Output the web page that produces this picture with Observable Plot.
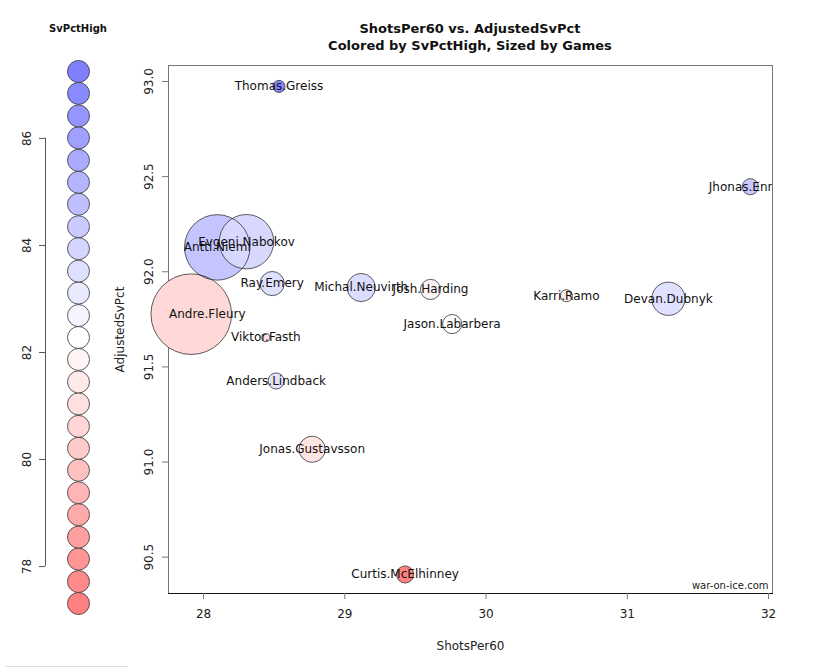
<!DOCTYPE html>
<html>
<head>
<meta charset="utf-8">
<script src="https://cdn.jsdelivr.net/npm/d3@7"></script>
<script src="https://cdn.jsdelivr.net/npm/@observablehq/plot@0.6"></script>
<style>
  body { margin: 0; background: #fff; font-family: "DejaVu Sans", sans-serif; }
  #wrap { position: relative; width: 830px; height: 668px; overflow: hidden; }
  #legend { position: absolute; left: 0; top: 0; }
  #main { position: absolute; left: 100px; top: 0; }
  .legend-title { position: absolute; left: 28px; width: 100px; top: 23px; text-align: center;
                  font-size: 10px; font-weight: bold; color: #111; }
  .title { position: absolute; left: 170px; width: 600px; top: 20px; text-align: center;
           font-size: 13px; font-weight: bold; line-height: 17px; color: #111; }
  .bottom-line { position: absolute; left: 5px; top: 666px; width: 123px; height: 1px; background: #ddd; }
</style>
</head>
<body>
<div id="wrap">
  <div id="legend"></div>
  <div id="main"></div>
  <div class="legend-title">SvPctHigh</div>
  <div class="title">ShotsPer60 vs. AdjustedSvPct<br>Colored by SvPctHigh, Sized by Games</div>
  <div class="bottom-line"></div>
</div>
<script>
// ── data ─────────────────────────────────────────────────────
const NAMES = [
  "Andre.Fleury", "Antti.Niemi", "Evgeni.Nabokov", "Devan.Dubnyk", "Michal.Neuvirth",
  "Jonas.Gustavsson", "Ray.Emery", "Josh.Harding", "Jason.Labarbera", "Curtis.McElhinney",
  "Anders.Lindback", "Jhonas.Enroth", "Thomas.Greiss", "Karri.Ramo", "Viktor.Fasth"
];
const SHOTS_PER_60 = [27.913, 28.097, 28.304, 31.291, 29.116, 28.769, 28.486, 29.607, 29.760, 29.427, 28.514, 31.871, 28.534, 30.569, 28.441];
const ADJ_SVPCT    = [91.777, 92.128, 92.158, 91.858, 91.917, 91.067, 91.938, 91.907, 91.725, 90.409, 91.426, 92.447, 92.974, 91.874, 91.654];
const SVPCT_HIGH   = [80.75, 84.59, 83.81, 83.50, 83.65, 81.22, 83.49, 81.78, 82.30, 77.40, 83.34, 84.43, 87.00, 81.39, 81.05];
const GAMES        = [80, 65, 54, 33, 28, 26, 24, 20, 19, 17, 16, 16, 12, 12, 8];

// legend swatch values (top to bottom read as 87.25 .. 77.31)
const LEGEND_VALUES = [
  77.31, 77.72, 78.14, 78.55, 78.97, 79.38, 79.80, 80.21, 80.62, 81.04, 81.45, 81.87, 82.28,
  82.69, 83.11, 83.52, 83.94, 84.35, 84.77, 85.18, 85.59, 86.01, 86.42, 86.84, 87.25
];
const LEGEND_TICKS = [78, 80, 82, 84, 86];
const X_TICKS = [28, 29, 30, 31, 32];
const Y_TICKS = [90.5, 91.0, 91.5, 92.0, 92.5, 93.0];

const rows = NAMES.map((name, i) => ({
  name,
  shots: SHOTS_PER_60[i],
  adj: ADJ_SVPCT[i],
  high: SVPCT_HIGH[i],
  games: GAMES[i]
}));

// red -> white -> blue, shared by legend and bubbles
const colorScale = {
  type: "linear",
  domain: [77.31, 82.28, 87.25],
  range: ["#ff8080", "#ffffff", "#8080ff"],
  interpolate: "rgb"
};

// ── legend column ────────────────────────────────────────────
const legend = Plot.plot({
  width: 130,
  height: 668,
  marginLeft: 45,
  marginRight: 0,
  marginTop: 71,
  marginBottom: 65,
  style: { fontFamily: "DejaVu Sans, sans-serif", fontSize: "12px", color: "#222" },
  x: { domain: [0, 1], axis: null },
  y: { domain: [77.31, 87.25], axis: null },
  color: colorScale,
  marks: [
    Plot.ruleX([0], { y1: 78, y2: 86, stroke: "#555" }),
    Plot.axisY({ ticks: LEGEND_TICKS, tickRotate: -90, tickSize: 6, tickPadding: 9, label: null, stroke: "#555" }),
    Plot.dot(LEGEND_VALUES, {
      y: d => d, fill: d => d, r: 11, stroke: "#333", strokeWidth: 0.8,
      frameAnchor: "left", dx: 33
    })
  ]
});
document.getElementById("legend").appendChild(legend);

// ── main scatter ─────────────────────────────────────────────
const main = Plot.plot({
  width: 730,
  height: 668,
  marginLeft: 68,
  marginRight: 58,
  marginTop: 65,
  marginBottom: 75,
  style: { fontFamily: "DejaVu Sans, sans-serif", fontSize: "12px", color: "#222", overflow: "visible" },
  x: { domain: [27.752, 32.028] },
  y: { domain: [90.309, 93.084] },
  r: { type: "linear", domain: [0, 80], range: [0, 40.3] },
  color: colorScale,
  marks: [
    Plot.frame({ stroke: "#777" }),
    Plot.frame({ anchor: "bottom", stroke: "#111" }),
    Plot.axisX({
      ticks: X_TICKS, tickFormat: d3.format("d"), tickSize: 6, tickPadding: 10, stroke: "#777",
      label: "ShotsPer60", labelAnchor: "center", labelArrow: "none", labelOffset: 56
    }),
    Plot.axisY({
      ticks: Y_TICKS, tickFormat: d3.format(".1f"), tickSize: 6, tickPadding: 10, tickRotate: -90,
      stroke: "#777", label: "AdjustedSvPct", labelAnchor: "center", labelArrow: "none", labelOffset: 53
    }),
    Plot.dot(rows, { x: "shots", y: "adj", r: "games", fill: "high", stroke: null }),
    Plot.dot(rows, { x: "shots", y: "adj", r: "games", fill: "none", stroke: "#333", strokeWidth: 0.8 }),
    Plot.text(rows.filter(d => d.name !== "Andre.Fleury"), {
      x: "shots", y: "adj", text: "name", fontSize: 12, fill: "#111", clip: true
    }),
    Plot.text(rows.filter(d => d.name === "Andre.Fleury"), {
      x: "shots", y: "adj", text: "name", fontSize: 12, fill: "#111", dx: 16, clip: true
    }),
    Plot.text(["war-on-ice.com"], {
      frameAnchor: "bottom-right", dx: -4, dy: -5, fontSize: 10, fill: "#222", textAnchor: "end"
    })
  ]
});
document.getElementById("main").appendChild(main);
</script>
</body>
</html>
